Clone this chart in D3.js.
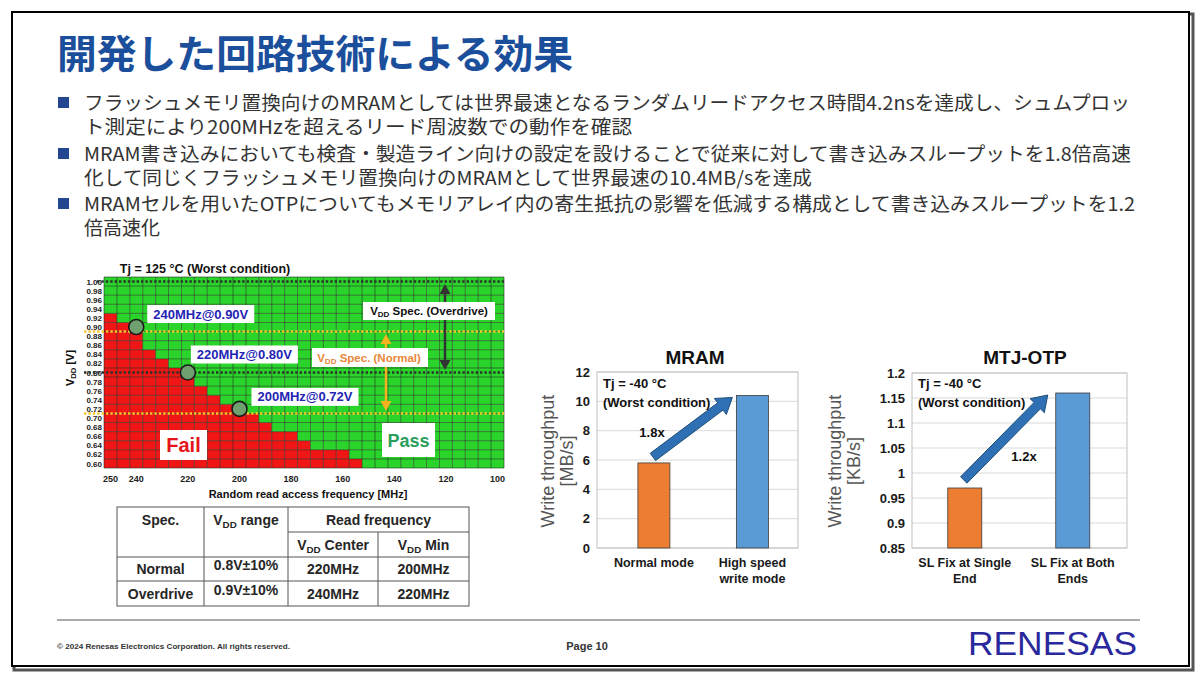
<!DOCTYPE html>
<html>
<head>
<meta charset="utf-8">
<script src="https://cdn.jsdelivr.net/npm/d3@7"></script>
<style>
body { margin: 0; background: #fff; }
svg { display: block; }
</style>
</head>
<body>
<div id="slide"></div>
<script>
// ---- slide text
var titleText = "開発した回路技術による効果";
var bulletLines = [
	["フラッシュメモリ置換向けのMRAMとしては世界最速となるランダムリードアクセス時間4.2nsを達成し、シュムプロッ",
	 "ト測定により200MHzを超えるリード周波数での動作を確認"],
	["MRAM書き込みにおいても検査・製造ライン向けの設定を設けることで従来に対して書き込みスループットを1.8倍高速",
	 "化して同じくフラッシュメモリ置換向けのMRAMとして世界最速の10.4MB/sを達成"],
	["MRAMセルを用いたOTPについてもメモリアレイ内の寄生抵抗の影響を低減する構成として書き込みスループットを1.2",
	 "倍高速化"]
];

// ---- shmoo plot
var shmooFreqs = [250, 245, 240, 235, 230, 225, 220, 215, 210, 205, 200, 195, 190, 185, 180, 175,
	170, 165, 160, 155, 150, 145, 140, 135, 130, 125, 120, 115, 110, 105, 100];
// lowest passing VDD for each frequency column
var shmooMinPass = [0.94, 0.92, 0.92, 0.86, 0.84, 0.82, 0.80, 0.78, 0.76, 0.74, 0.74, 0.72, 0.70, 0.68, 0.68, 0.66,
	0.64, 0.64, 0.64, 0.62, 0.60, 0.60, 0.60, 0.60, 0.60, 0.60, 0.60, 0.60, 0.60, 0.60, 0.60];
var shmooVolts = [0.60, 0.62, 0.64, 0.66, 0.68, 0.70, 0.72, 0.74, 0.76, 0.78, 0.80,
	0.82, 0.84, 0.86, 0.88, 0.90, 0.92, 0.94, 0.96, 0.98, 1.00];
var shmooFreqTicks = [250, 240, 220, 200, 180, 160, 140, 120, 100];
var overdriveLines = [1.00, 0.80];
var normalLines = [0.89, 0.71];
var overdriveRange = [0.81, 0.99];
var normalRange = [0.72, 0.88];
var shmooPoints = [
	{ f: 240, v: 0.90, label: "240MHz@0.90V" },
	{ f: 220, v: 0.80, label: "220MHz@0.80V" },
	{ f: 200, v: 0.72, label: "200MHz@0.72V" }
];

// ---- spec table
var tableRows = [
	["Normal", "0.8V±10%", "220MHz", "200MHz"],
	["Overdrive", "0.9V±10%", "240MHz", "220MHz"]
];

// ---- bar charts
var mramCats = [["Normal mode"], ["High speed", "write mode"]];
var mramValues = [5.8, 10.4];
var mramTicks = [0, 2, 4, 6, 8, 10, 12];
var otpCats = [["SL Fix at Single", "End"], ["SL Fix at Both", "Ends"]];
var otpValues = [0.97, 1.16];
var otpTicks = [0.85, 0.9, 0.95, 1, 1.05, 1.1, 1.15, 1.2];
var barColors = ["#ed7d31", "#5b9bd5"];

var LAT = "'Liberation Sans', Arial, sans-serif";
var JP = "'Noto Sans CJK JP', sans-serif";

var svg = d3.select("#slide").append("svg")
	.attr("width", 1200)
	.attr("height", 682);

svg.append("rect").attr("width", 1200).attr("height", 682).attr("fill", "#fff");

// slide frame with a little shadow
svg.append("rect")
	.attr("x", 14).attr("y", 14).attr("width", 1179).attr("height", 656)
	.attr("fill", "none").attr("stroke", "#555").attr("stroke-width", 3);
svg.append("rect")
	.attr("x", 12).attr("y", 12).attr("width", 1177).attr("height", 654)
	.attr("fill", "#fff").attr("stroke", "#000").attr("stroke-width", 2);

// title
svg.append("text")
	.attr("x", 57).attr("y", 68)
	.attr("textLength", 516)
	.attr("lengthAdjust", "spacingAndGlyphs")
	.style("font-family", JP).style("font-size", "39px").style("font-weight", 700)
	.attr("fill", "#1b4f9c")
	.text(titleText);

// bullets (line widths follow the original wrapping)
var bulletY = [110, 161, 211];
var lineWidths = [[1046, 548], [1047, 728], [1051, 0]];
bulletLines.forEach(function(lines, i) {
	svg.append("rect")
		.attr("x", 58).attr("y", bulletY[i] - 13)
		.attr("width", 11).attr("height", 11)
		.attr("fill", "#22468f");
	lines.forEach(function(line, j) {
		var t = svg.append("text")
			.attr("x", 84).attr("y", bulletY[i] + j * 24)
			.style("font-family", JP).style("font-size", "19px")
			.attr("fill", "#333")
			.text(line);
		if (lineWidths[i][j]) t.attr("textLength", lineWidths[i][j]).attr("lengthAdjust", "spacingAndGlyphs");
	});
});

// helper: V with DD subscript
function vdd(sel, rest, size) {
	sel.append("tspan").text("V");
	sel.append("tspan").text("DD").style("font-size", (size * 0.7) + "px").attr("dy", size * 0.2);
	sel.append("tspan").text(rest).attr("dy", -size * 0.2);
	return sel;
}

// ================= shmoo plot =================
var sx = d3.scaleBand().domain(shmooFreqs).range([104, 504]);
var sy = d3.scaleLinear().domain([0.59, 1.01]).range([468, 277]);
var halfRow = 0.01;

var cells = d3.cross(shmooFreqs.map(function(f, i) { return { f: f, min: shmooMinPass[i] }; }), shmooVolts);
var shmoo = svg.append("g").attr("class", "shmoo");

shmoo.selectAll("rect.cell")
	.data(cells)
	.enter().append("rect")
	.attr("class", "cell")
	.attr("x", function(d) { return sx(d[0].f); })
	.attr("y", function(d) { return sy(d[1] + halfRow); })
	.attr("width", sx.bandwidth())
	.attr("height", function(d) { return sy(d[1] - halfRow) - sy(d[1] + halfRow); })
	.attr("fill", function(d) { return d[1] < d[0].min - 0.001 ? "#f01616" : "#2ad42a"; });

// grid
shmoo.selectAll("line.vg")
	.data(shmooFreqs.concat(["end"]))
	.enter().append("line")
	.attr("x1", function(d) { return d == "end" ? 504 : sx(d); })
	.attr("x2", function(d) { return d == "end" ? 504 : sx(d); })
	.attr("y1", sy(1.01)).attr("y2", sy(0.59))
	.attr("stroke", "#1a2a1a").attr("stroke-width", 0.8).attr("opacity", 0.7);
shmoo.selectAll("line.hg")
	.data(shmooVolts.map(function(v) { return v - halfRow; }).concat([1.01]))
	.enter().append("line")
	.attr("x1", 104).attr("x2", 504)
	.attr("y1", function(d) { return sy(d); })
	.attr("y2", function(d) { return sy(d); })
	.attr("stroke", "#1a2a1a").attr("stroke-width", 0.8).attr("opacity", 0.7);

// axes
var yAx = shmoo.append("g")
	.attr("transform", "translate(102,0)")
	.call(d3.axisLeft(sy).tickValues(shmooVolts).tickSize(0).tickPadding(0).tickFormat(d3.format(".2f")));
yAx.select(".domain").remove();
yAx.selectAll("text").style("font-family", LAT).style("font-size", "8px").style("font-weight", 700).attr("fill", "#222");

var xAx = shmoo.append("g")
	.attr("transform", "translate(0,472)")
	.call(d3.axisBottom(sx).tickValues(shmooFreqTicks).tickSize(0).tickPadding(4));
xAx.select(".domain").remove();
xAx.selectAll("text").style("font-family", LAT).style("font-size", "9px").style("font-weight", 700).attr("fill", "#222");

// spec lines
overdriveLines.forEach(function(v) {
	shmoo.append("line")
		.attr("x1", v == 1.00 ? 97 : 84).attr("x2", 504)
		.attr("y1", sy(v)).attr("y2", sy(v))
		.attr("stroke", "#2b332b").attr("stroke-width", 2.6).attr("stroke-dasharray", "2.4,2");
});
normalLines.forEach(function(v) {
	shmoo.append("line")
		.attr("x1", 84).attr("x2", 504)
		.attr("y1", sy(v)).attr("y2", sy(v))
		.attr("stroke", "#f2c52a").attr("stroke-width", 2.6).attr("stroke-dasharray", "2.4,2");
});

// double arrows
function dblArrow(x, v0, v1, color) {
	var ya = sy(v1), yb = sy(v0);
	shmoo.append("line").attr("x1", x).attr("x2", x).attr("y1", ya + 6).attr("y2", yb - 6)
		.attr("stroke", color).attr("stroke-width", 2.5);
	shmoo.append("path").attr("d", "M" + x + "," + (ya - 2) + "L" + (x - 5.5) + "," + (ya + 8) + "L" + (x + 5.5) + "," + (ya + 8) + "Z").attr("fill", color);
	shmoo.append("path").attr("d", "M" + x + "," + (yb + 2) + "L" + (x - 5.5) + "," + (yb - 8) + "L" + (x + 5.5) + "," + (yb - 8) + "Z").attr("fill", color);
}
dblArrow(445, overdriveRange[0], overdriveRange[1], "#333");
dblArrow(386, normalRange[0], normalRange[1], "#f5b31f");

// circles at the operating points
shmoo.selectAll("circle")
	.data(shmooPoints)
	.enter().append("circle")
	.attr("cx", function(d) { return sx(d.f) + sx.bandwidth() / 2; })
	.attr("cy", function(d) { return sy(d.v); })
	.attr("r", 7.5)
	.attr("fill", "#6fa06f").attr("stroke", "#1a1a1a").attr("stroke-width", 1.6);

// point labels
var ptOff = [[11, -13], [3, -18], [12, -12]];
shmooPoints.forEach(function(d, i) {
	var cx = sx(d.f) + sx.bandwidth() / 2, cy = sy(d.v);
	var bx = cx + ptOff[i][0], by = cy + ptOff[i][1];
	shmoo.append("rect").attr("x", bx).attr("y", by - 9).attr("width", 107).attr("height", 18).attr("fill", "#fff");
	shmoo.append("text").attr("x", bx + 53.5).attr("y", by + 4.5)
		.attr("text-anchor", "middle")
		.style("font-family", LAT).style("font-size", "13px").style("font-weight", 700)
		.attr("fill", "#2424b4").text(d.label);
});

// spec labels
shmoo.append("rect").attr("x", 363).attr("y", 302).attr("width", 132).attr("height", 18).attr("fill", "#fff");
vdd(shmoo.append("text").attr("x", 429).attr("y", 315).attr("text-anchor", "middle")
	.style("font-family", LAT).style("font-size", "11.5px").style("font-weight", 700).attr("fill", "#111"), " Spec. (Overdrive)", 11.5);
shmoo.append("rect").attr("x", 312).attr("y", 348).attr("width", 116).attr("height", 19).attr("fill", "#fff");
vdd(shmoo.append("text").attr("x", 369).attr("y", 362).attr("text-anchor", "middle")
	.style("font-family", LAT).style("font-size", "11.5px").style("font-weight", 700).attr("fill", "#e8873a"), " Spec. (Normal)", 11.5);

// Fail / Pass
shmoo.append("rect").attr("x", 160).attr("y", 430).attr("width", 47).attr("height", 30).attr("fill", "#fff");
shmoo.append("text").attr("x", 183.5).attr("y", 452).attr("text-anchor", "middle")
	.style("font-family", LAT).style("font-size", "20px").style("font-weight", 700).attr("fill", "#e4141a").text("Fail");
shmoo.append("rect").attr("x", 382).attr("y", 423).attr("width", 53).attr("height", 34).attr("fill", "#fff");
shmoo.append("text").attr("x", 408.5).attr("y", 447).attr("text-anchor", "middle")
	.style("font-family", LAT).style("font-size", "18px").style("font-weight", 700).attr("fill", "#2a9e5c").text("Pass");

// titles
shmoo.append("text").attr("x", 205).attr("y", 273).attr("text-anchor", "middle")
	.style("font-family", LAT).style("font-size", "12.5px").style("font-weight", 700).attr("fill", "#111")
	.text("Tj = 125 °C (Worst condition)");
shmoo.append("text").attr("x", 308).attr("y", 498).attr("text-anchor", "middle")
	.style("font-family", LAT).style("font-size", "11px").style("font-weight", 700).attr("fill", "#111")
	.text("Random read access frequency [MHz]");
vdd(shmoo.append("text").attr("transform", "translate(74,368) rotate(-90)").attr("text-anchor", "middle")
	.style("font-family", LAT).style("font-size", "11px").style("font-weight", 700).attr("fill", "#111"), " [V]", 11);

// ================= table =================
var tb = svg.append("g").attr("class", "table");
var colX = [117, 204, 288, 378, 469];
var rowY = [507, 532, 557, 581, 606];
var tStroke = "#555";
tb.append("rect").attr("x", colX[0]).attr("y", rowY[0]).attr("width", colX[4] - colX[0]).attr("height", rowY[4] - rowY[0])
	.attr("fill", "none").attr("stroke", tStroke);
[1, 2].forEach(function(c) {
	tb.append("line").attr("x1", colX[c]).attr("x2", colX[c]).attr("y1", rowY[0]).attr("y2", rowY[4]).attr("stroke", tStroke);
});
tb.append("line").attr("x1", colX[3]).attr("x2", colX[3]).attr("y1", rowY[1]).attr("y2", rowY[4]).attr("stroke", tStroke);
tb.append("line").attr("x1", colX[2]).attr("x2", colX[4]).attr("y1", rowY[1]).attr("y2", rowY[1]).attr("stroke", tStroke);
[2, 3].forEach(function(r) {
	tb.append("line").attr("x1", colX[0]).attr("x2", colX[4]).attr("y1", rowY[r]).attr("y2", rowY[r]).attr("stroke", tStroke);
});
function cellText(x, y, size) {
	return tb.append("text").attr("x", x).attr("y", y).attr("text-anchor", "middle")
		.style("font-family", LAT).style("font-size", size + "px").style("font-weight", 700).attr("fill", "#262626");
}
var colC = [160.5, 246, 333, 423.5];
cellText(colC[0], 525, 14).text("Spec.");
vdd(cellText(colC[1], 525, 14), " range", 14);
cellText(378.5, 525, 14).text("Read frequency");
vdd(cellText(colC[2], 550, 14), " Center", 14);
vdd(cellText(colC[3], 550, 14), " Min", 14);
tableRows.forEach(function(row, r) {
	row.forEach(function(v, c) {
		cellText(colC[c], 574 + r * 24.5 - (c == 1 ? 4 : 0), 14).text(v);
	});
});

// ================= bar charts =================
function blockArrow(g, x1, y1, x2, y2) {
	var dx = x2 - x1, dy = y2 - y1, L = Math.sqrt(dx * dx + dy * dy);
	var ux = dx / L, uy = dy / L, nx = -uy, ny = ux;
	var w = 4.5, hw = 10, hl = 15;
	var bx = x2 - ux * hl, by = y2 - uy * hl;
	var pts = [
		[x1 + nx * w, y1 + ny * w], [bx + nx * w, by + ny * w], [bx + nx * hw, by + ny * hw],
		[x2, y2], [bx - nx * hw, by - ny * hw], [bx - nx * w, by - ny * w], [x1 - nx * w, y1 - ny * w]
	];
	g.append("path").attr("d", d3.line()(pts) + "Z")
		.attr("fill", "#2f6fb4").attr("stroke", "#1f4e79").attr("stroke-width", 1);
}

function barChart(o) {
	var g = svg.append("g");
	var x = d3.scaleBand().domain(d3.range(o.values.length)).range([o.x0, o.x1])
		.paddingInner(o.pi).paddingOuter(o.po).align(o.align);
	var y = d3.scaleLinear().domain([o.ticks[0], o.ticks[o.ticks.length - 1]]).range([o.y1, o.y0]);

	g.selectAll("line.grid").data(o.ticks).enter().append("line")
		.attr("x1", o.x0).attr("x2", o.x1)
		.attr("y1", function(d) { return y(d); }).attr("y2", function(d) { return y(d); })
		.attr("stroke", "#d9d9d9").attr("stroke-width", 1);
	g.append("rect").attr("x", o.x0).attr("y", o.y0).attr("width", o.x1 - o.x0).attr("height", o.y1 - o.y0)
		.attr("fill", "none").attr("stroke", "#bfbfbf");

	var ax = g.append("g").attr("transform", "translate(" + (o.x0 - 7) + ",0)")
		.call(d3.axisLeft(y).tickValues(o.ticks).tickSize(0).tickPadding(0).tickFormat(function(d) { return String(d); }));
	ax.select(".domain").remove();
	ax.selectAll("text").style("font-family", LAT).style("font-size", "13px").style("font-weight", 700).attr("fill", "#1a1a1a");

	g.selectAll("rect.bar").data(o.values).enter().append("rect")
		.attr("x", function(d, i) { return x(i); })
		.attr("y", function(d) { return y(d); })
		.attr("width", x.bandwidth())
		.attr("height", function(d) { return o.y1 - y(d); })
		.attr("fill", function(d, i) { return barColors[i]; })
		.attr("stroke", "#3a3a3a").attr("stroke-width", 0.8);

	o.cats.forEach(function(lines, i) {
		lines.forEach(function(t, j) {
			g.append("text").attr("x", x(i) + x.bandwidth() / 2).attr("y", 567 + j * 16)
				.attr("text-anchor", "middle")
				.style("font-family", LAT).style("font-size", "12.5px").style("font-weight", 700).attr("fill", "#1a1a1a")
				.text(t);
		});
	});

	g.append("text").attr("x", o.titleX).attr("y", 364).attr("text-anchor", "middle")
		.style("font-family", LAT).style("font-size", "19px").style("font-weight", 700).attr("fill", "#111")
		.text(o.title);

	o.ylabel.forEach(function(t, j) {
		g.append("text").attr("transform", "translate(" + (o.ylabX + j * 19) + ",461) rotate(-90)")
			.attr("text-anchor", "middle").attr("dy", "0.35em")
			.style("font-family", LAT).style("font-size", "18px").style("font-weight", 500).attr("fill", "#555")
			.text(t);
	});

	["Tj = -40 °C", "(Worst condition)"].forEach(function(t, j) {
		g.append("text").attr("x", o.x0 + 6).attr("y", 388 + j * 19)
			.style("font-family", LAT).style("font-size", "13px").style("font-weight", 700).attr("fill", "#111")
			.text(t);
	});

	var cx0 = x(0) + x.bandwidth() / 2;
	blockArrow(g, cx0 - 1, y(o.values[0]) - o.tailGap, x(1) - o.tipGap, y(o.values[1]) + 2);

	g.append("text").attr("x", o.ratioPos[0]).attr("y", o.ratioPos[1]).attr("text-anchor", "middle")
		.style("font-family", LAT).style("font-size", "13px").style("font-weight", 700).attr("fill", "#111")
		.text(o.ratio);
}

barChart({
	values: mramValues, cats: mramCats, ticks: mramTicks,
	x0: 597, x1: 798, y0: 372, y1: 548, pi: 0.675, po: 0.358, align: 0.58,
	title: "MRAM", titleX: 695, ylabel: ["Write throughput", "[MB/s]"], ylabX: 548,
	ratio: "1.8x", ratioPos: [652, 437], tailGap: 6, tipGap: 4
});
barChart({
	values: otpValues, cats: otpCats, ticks: otpTicks,
	x0: 912, x1: 1127, y0: 373, y1: 548, pi: 0.685, po: 0.338, align: 0.49,
	title: "MTJ-OTP", titleX: 1025, ylabel: ["Write throughput", "[KB/s]"], ylabX: 835,
	ratio: "1.2x", ratioPos: [1024, 461], tailGap: 8, tipGap: 8
});

// ================= footer =================
svg.append("line").attr("x1", 57).attr("x2", 1140).attr("y1", 620).attr("y2", 620)
	.attr("stroke", "#555").attr("stroke-width", 1);
svg.append("text").attr("x", 57).attr("y", 649)
	.attr("textLength", 233).attr("lengthAdjust", "spacingAndGlyphs")
	.style("font-family", LAT).style("font-size", "8px").style("font-weight", 700).attr("fill", "#333")
	.text("© 2024 Renesas Electronics Corporation. All rights reserved.");
svg.append("text").attr("x", 587).attr("y", 650).attr("text-anchor", "middle")
	.style("font-family", LAT).style("font-size", "11px").style("font-weight", 700).attr("fill", "#333")
	.text("Page 10");
svg.append("text").attr("x", 968).attr("y", 655)
	.attr("textLength", 169).attr("lengthAdjust", "spacingAndGlyphs")
	.style("font-family", LAT).style("font-size", "34px").attr("fill", "#2a289d")
	.text("RENESAS");
</script>
</body>
</html>
